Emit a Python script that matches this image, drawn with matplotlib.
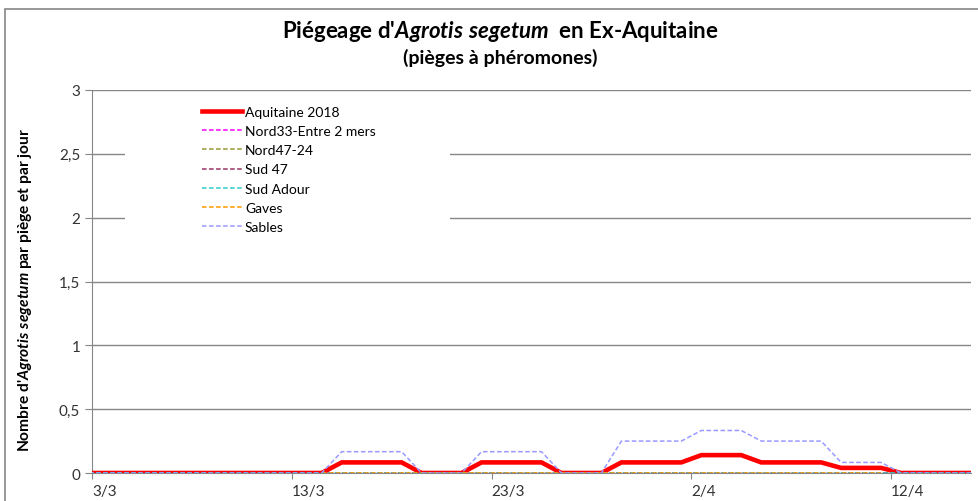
import numpy as np
import matplotlib
matplotlib.use("Agg")
import matplotlib.pyplot as plt
from matplotlib.patches import Rectangle

plt.rcParams["font.family"] = ["Lato", "DejaVu Sans"]
plt.rcParams["mathtext.fontset"] = "custom"
plt.rcParams["mathtext.rm"] = "Lato:bold"
plt.rcParams["mathtext.it"] = "Lato:italic:bold"
plt.rcParams["mathtext.bf"] = "Lato:bold"

# days since 3/3 (daily readings, plotted mid-day)
days = np.arange(-1, 45) + 0.5

aquitaine = [0, 0, 0, 0, 0, 0, 0, 0, 0, 0, 0, 0, 0,
             0.083, 0.083, 0.083, 0.083, 0, 0, 0,
             0.083, 0.083, 0.083, 0.083, 0, 0, 0,
             0.083, 0.083, 0.083, 0.083, 0.14, 0.14, 0.14,
             0.083, 0.083, 0.083, 0.083, 0.04, 0.04, 0.04,
             0, 0, 0, 0, 0]
sables = [0, 0, 0, 0, 0, 0, 0, 0, 0, 0, 0, 0, 0,
          0.167, 0.167, 0.167, 0.167, 0, 0, 0,
          0.167, 0.167, 0.167, 0.167, 0, 0, 0,
          0.25, 0.25, 0.25, 0.25, 0.333, 0.333, 0.333,
          0.25, 0.25, 0.25, 0.25, 0.083, 0.083, 0.083,
          0, 0, 0, 0, 0]
zeros = [0] * len(days)
gaves = [np.nan] * 12 + [0] * 29 + [np.nan] * 5

series = [
    ("Nord33-Entre 2 mers", zeros, "#FF00FF"),
    ("Nord47-24", zeros, "#999933"),
    ("Sud 47", zeros, "#993366"),
    ("Sud Adour", zeros, "#33CCCC"),
    ("Gaves", gaves, "#FF9900"),
    ("Sables", sables, "#9999FF"),
]

xticks = [0, 10, 20, 30, 40]
xlabels = ["3/3", "13/3", "23/3", "2/4", "12/4"]
yticks = [0, 0.5, 1, 1.5, 2, 2.5, 3]
ylabels = ["0", "0,5", "1", "1,5", "2", "2,5", "3"]

W, H = 979, 502
fig = plt.figure(figsize=(W / 100, H / 100), dpi=100)
ax = fig.add_axes([92 / W, 1 - 474 / H, 879 / W, 383 / H])

ax.plot(days, aquitaine, color="#FF0000", lw=3.3, label="Aquitaine 2018",
        solid_joinstyle="miter", zorder=3)
for name, vals, col in series:
    ax.plot(days, vals, color=col, lw=1.1, ls=(0, (3, 1.6)), label=name, zorder=4)

ax.set_xlim(0, 44)
ax.set_ylim(0, 3)
ax.set_xticks(xticks)
ax.set_xticklabels(xlabels)
ax.set_yticks(yticks)
ax.set_yticklabels(ylabels)
ax.yaxis.grid(True, color="#868686", lw=1)
ax.set_axisbelow(True)
for s in ["top", "right"]:
    ax.spines[s].set_visible(False)
for s in ["left", "bottom"]:
    ax.spines[s].set_color("#868686")
ax.tick_params(axis="both", colors="#868686", labelcolor="#333333",
               labelsize=11, length=5, direction="out")
ax.tick_params(axis="x", pad=4, length=4)
for lbl in ax.get_xticklabels():
    lbl.set_horizontalalignment("left")

# white box behind the legend hides the grid
ax.add_patch(Rectangle((0.0375, 0.611), 0.37, 0.37, transform=ax.transAxes,
                       facecolor="white", edgecolor="none", zorder=2))
ax.legend(loc="upper left", bbox_to_anchor=(0.125, 0.959), frameon=False,
          fontsize=10, handlelength=2.9, handletextpad=0.2,
          labelspacing=0.52, borderaxespad=0, borderpad=0)

fig.text(500 / W, 1 - 32 / H, r"Piégeage d'$\mathit{Agrotis\ segetum}$  en Ex-Aquitaine",
         ha="center", va="center", fontsize=16, fontweight="bold")
fig.text(500 / W, 1 - 58 / H, "(pièges à phéromones)",
         ha="center", va="center", fontsize=14, fontweight="bold")
fig.text(25 / W, 1 - 290 / H, r"Nombre d'$\mathit{Agrotis\ segetum}$ par piège et par jour",
         ha="center", va="center", rotation=90, fontsize=11.2, fontweight="bold")

fig.add_artist(Rectangle((5 / W, -0.1), 1.2, 1.1 - 10 / H,
                         transform=fig.transFigure, fill=False,
                         edgecolor="#868686", lw=1.2))

fig.savefig("out.png", dpi=100)
